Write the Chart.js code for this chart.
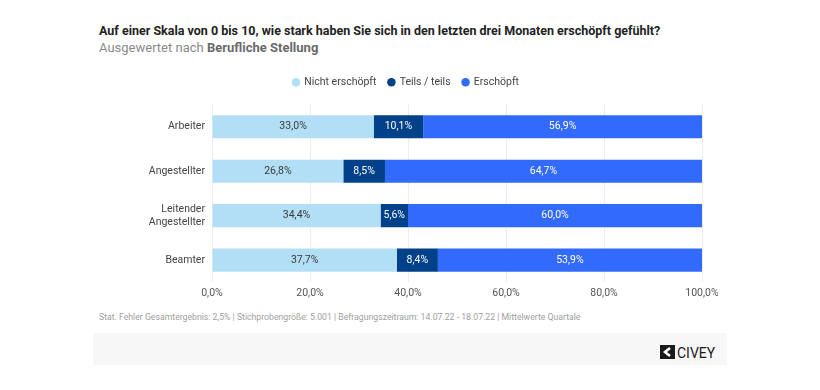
<!DOCTYPE html>
<html>
<head>
<meta charset="utf-8">
<script src="https://cdn.jsdelivr.net/npm/chart.js@4.4.1/dist/chart.umd.min.js"></script>
<style>
  body { margin:0; width:820px; height:390px; background:#fff; font-family: Roboto, sans-serif; position:relative; overflow:hidden; }
  .t { position:absolute; white-space:nowrap; }
  #title { left:99px; top:23px; font-size:12.5px; font-weight:700; color:#222; }
  #sub { left:99px; top:40px; font-size:13px; color:#8a8a8a; }
  #sub b { color:#6a6a6a; font-weight:700; }
  #note { left:99px; top:312px; font-size:8.7px; color:#a0a0a0; }
  #band { position:absolute; left:93px; top:333px; width:634px; height:32px; background:#f7f7f8; }
  #logo { position:absolute; left:660px; top:344px; }
  #wrap { position:absolute; left:90px; top:60px; width:628px; height:250px; }
</style>
</head>
<body>
<div class="t" id="title">Auf einer Skala von 0 bis 10, wie stark haben Sie sich in den letzten drei Monaten erschöpft gefühlt?</div>
<div class="t" id="sub">Ausgewertet nach <b>Berufliche Stellung</b></div>
<div id="wrap"><canvas id="c"></canvas></div>
<div class="t" id="note">Stat. Fehler Gesamtergebnis: 2,5% | Stichprobengröße: 5.001 | Befragungszeitraum: 14.07.22 - 18.07.22 | Mittelwerte Quartale</div>
<div id="band"></div>
<div id="logo">
  <svg width="60" height="16" viewBox="0 0 60 16">
    <rect x="0" y="1" width="15" height="14" fill="#1a1a1a"/>
    <path d="M10 4 L5 8 L10 12" stroke="#fff" stroke-width="2.6" fill="none"/>
    <text x="17" y="14" font-family="Roboto, sans-serif" font-size="14" fill="#1a1a1a">CIVEY</text>
  </svg>
</div>
<script>
// Daten
const categories = ['Arbeiter', 'Angestellter', ['Leitender', 'Angestellter'], 'Beamter'];
const seriesNames = ['Nicht erschöpft', 'Teils / teils', 'Erschöpft'];
const nichtErschoepft = [33.0, 26.8, 34.4, 37.7];
const teilsTeils = [10.1, 8.5, 5.6, 8.4];
const erschoepft = [56.9, 64.7, 60.0, 53.9];
const xTicks = [0, 20, 40, 60, 80, 100];

const colors = ['#b3dff6', '#00418a', '#326bfc'];
const labelColors = ['#3a3a3a', '#ffffff', '#ffffff'];

const fmt = v => v.toFixed(1).replace('.', ',') + '%';

// Werte in die Balken schreiben
const barLabels = {
    id: 'barLabels',
    afterDatasetsDraw(chart) {
        const ctx = chart.ctx;
        ctx.save();
        ctx.font = '10.5px Roboto, sans-serif';
        ctx.textAlign = 'center';
        ctx.textBaseline = 'middle';
        chart.data.datasets.forEach((ds, i) => {
            chart.getDatasetMeta(i).data.forEach((bar, j) => {
                const cx = (bar.x + bar.base) / 2;
                ctx.fillStyle = labelColors[i];
                ctx.fillText(fmt(ds.data[j]), cx, bar.y);
            });
        });
        ctx.restore();
    }
};

// etwas mehr Abstand unter der Legende
const legendGap = {
    id: 'legendGap',
    beforeInit(chart) {
        const fit = chart.legend.fit;
        chart.legend.fit = function () {
            fit.call(this);
            this.height += 7;
        };
    }
};

new Chart(document.getElementById('c'), {
    type: 'bar',
    data: {
        labels: categories,
        datasets: [
            { label: seriesNames[0], data: nichtErschoepft, backgroundColor: colors[0] },
            { label: seriesNames[1], data: teilsTeils, backgroundColor: colors[1] },
            { label: seriesNames[2], data: erschoepft, backgroundColor: colors[2] }
        ]
    },
    options: {
        indexAxis: 'y',
        responsive: true,
        maintainAspectRatio: false,
        animation: false,
        categoryPercentage: 1,
        barPercentage: 0.52,
        layout: { padding: { left: 20, right: 16, top: 5, bottom: 5 } },
        plugins: {
            legend: {
                position: 'top',
                labels: { usePointStyle: true, pointStyle: 'circle', boxWidth: 6, boxHeight: 6, padding: 12,
                          color: '#444', font: { family: 'Roboto', size: 10.5 } }
            },
            tooltip: { enabled: false }
        },
        scales: {
            x: {
                stacked: true, min: 0, max: 100,
                afterBuildTicks: s => { s.ticks = xTicks.map(v => ({ value: v })); },
                afterFit: s => { s.paddingLeft = 0; s.paddingRight = 0; },
                ticks: { callback: v => fmt(v), color: '#555', font: { family: 'Roboto', size: 10.5 }, padding: 5 },
                grid: { color: '#ececec', drawTicks: false },
                border: { display: false }
            },
            y: {
                stacked: true,
                afterFit: s => { s.width = 102; },
                ticks: { color: '#444', font: { family: 'Roboto', size: 10.5 }, padding: 7 },
                grid: { display: false, drawTicks: false },
                border: { display: false }
            }
        }
    },
    plugins: [barLabels, legendGap]
});
</script>
</body>
</html>
